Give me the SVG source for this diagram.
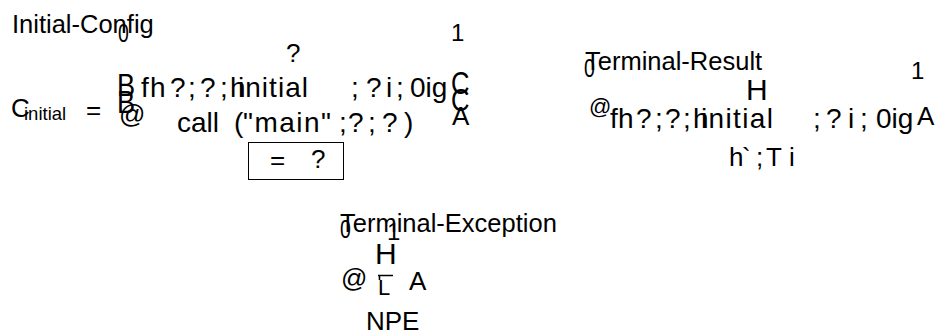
<svg xmlns="http://www.w3.org/2000/svg" width="938" height="335" viewBox="0 0 938 335">
  <style>
    text { font-family: "Liberation Sans", Arial, sans-serif; fill: #000; }
    .lbl { font-size: 25.5px; }
    .m { font-size: 26px; }
    .ml { font-size: 28px; }
    .sub { font-size: 18.5px; }
    .sm { font-size: 22px; }
    .one { font-size: 24px; }
    .big { font-size: 30px; }
    .ptop { font-size: 26px; }
    .ext { font-size: 32px; }
    .box { fill: none; stroke: #000; stroke-width: 1; }
    .bar { fill: none; stroke: #000; stroke-width: 1.6; }
  </style>

  <!-- Initial configuration -->
  <g id="initial-config">
    <text class="lbl" x="12" y="33">Initial-Config</text>
    <!-- left big paren pieces -->
    <text class="ptop" transform="translate(118,42) scale(0.75,1)">0</text>
    <text class="ext" transform="translate(117,96) scale(0.85,1)">B</text>
    <text class="ext" transform="translate(117,113) scale(0.85,1)">B</text>
    <text class="m" x="119" y="123">@</text>
    <!-- right big paren pieces -->
    <text class="one" x="451" y="41">1</text>
    <text class="ext" transform="translate(451,94) scale(0.8,1)">C</text>
    <text class="ext" transform="translate(451,111) scale(0.8,1)">C</text>
    <text class="m" x="452" y="125">A</text>

    <text class="m" x="286" y="62">?</text>

    <text class="m" x="11" y="117">C</text>
    <text class="sub" x="24" y="120">initial</text>
    <text class="m" x="86" y="119">=</text>

    <text class="ml" y="97"><tspan x="141">f</tspan><tspan x="150">h</tspan><tspan x="170">?</tspan><tspan x="188">;</tspan><tspan x="200">?</tspan><tspan x="220">;</tspan><tspan x="230">h</tspan></text>
    <text class="ml" x="238" y="97" textLength="70" lengthAdjust="spacing">initial</text>
    <text class="ml" y="97"><tspan x="351">;</tspan><tspan x="366">?</tspan><tspan x="386">i</tspan><tspan x="396">;</tspan><tspan x="410">0ig</tspan></text>

    <text class="ml" y="132"><tspan x="177">call</tspan><tspan x="234">(</tspan></text>
    <text class="ml" x="243" y="132" textLength="88" lengthAdjust="spacing">"main"</text>
    <text class="ml" y="132"><tspan x="339">;</tspan><tspan x="348">?</tspan><tspan x="368">;</tspan><tspan x="382">?</tspan><tspan x="404">)</tspan></text>

    <rect class="box" x="248.5" y="142.5" width="95" height="37"/>
    <text class="m" x="270" y="169">=</text>
    <text class="m" x="311" y="168">?</text>
  </g>

  <!-- Terminal result -->
  <g id="terminal-result">
    <text class="lbl" x="585" y="70">Terminal-Result</text>
    <text class="ptop" transform="translate(584,77) scale(0.75,1)">0</text>
    <text class="one" x="911" y="79">1</text>
    <text class="big" x="746" y="100">H</text>
    <text class="sm" x="589" y="114">@</text>
    <text class="ml" y="128"><tspan x="610">f</tspan><tspan x="618">h</tspan><tspan x="636">?</tspan><tspan x="655">;</tspan><tspan x="665">?</tspan><tspan x="683">;</tspan><tspan x="693">h</tspan></text>
    <text class="ml" x="701" y="128" textLength="72" lengthAdjust="spacing">initial</text>
    <text class="ml" y="128"><tspan x="813">;</tspan><tspan x="826">?</tspan><tspan x="848">i</tspan><tspan x="860">;</tspan><tspan x="876">0ig</tspan></text>
    <text class="m" x="917" y="125">A</text>
    <text class="m" y="166"><tspan x="729">h</tspan><tspan x="742">`</tspan><tspan x="756">;</tspan><tspan x="766">T</tspan><tspan x="789">i</tspan></text>
  </g>

  <!-- Terminal exception -->
  <g id="terminal-exception">
    <text class="lbl" x="340" y="232">Terminal-Exception</text>
    <text class="ptop" transform="translate(340,238) scale(0.75,1)">0</text>
    <text class="one" x="387" y="240">1</text>
    <text class="big" x="375" y="264">H</text>
    <text class="m" x="341" y="287">@</text>
    <path class="bar" d="M378,275.5 H393 M379.5,275.5 V280"/>
    <text class="sm" x="378" y="295">L</text>
    <text class="m" x="409" y="290">A</text>
    <text class="m" x="366" y="330">NPE</text>
  </g>
</svg>
